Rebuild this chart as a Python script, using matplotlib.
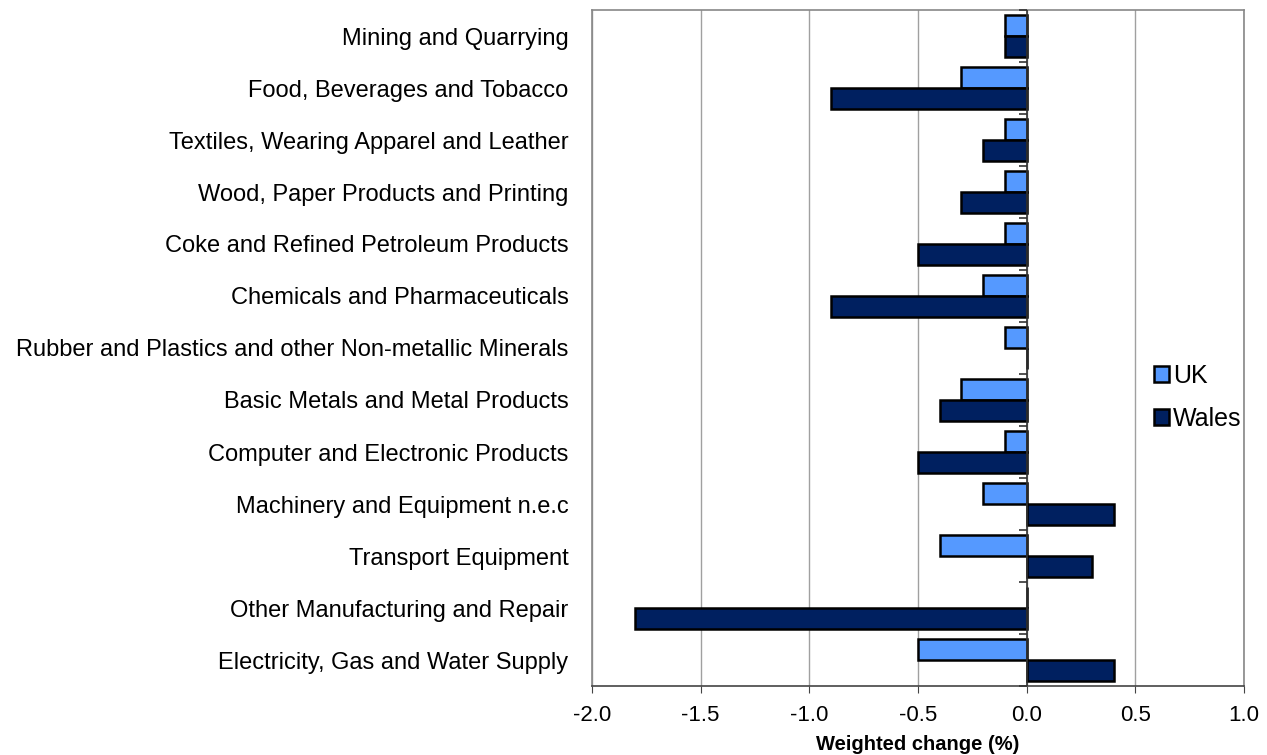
import matplotlib.pyplot as plt
import numpy as np

plt.rcParams['font.family'] = ['Liberation Sans', 'DejaVu Sans']

categories = [
    'Mining and Quarrying',
    'Food, Beverages and Tobacco',
    'Textiles, Wearing Apparel and Leather',
    'Wood, Paper Products and Printing',
    'Coke and Refined Petroleum Products',
    'Chemicals and Pharmaceuticals',
    'Rubber and Plastics and other Non-metallic Minerals',
    'Basic Metals and Metal Products',
    'Computer and Electronic Products',
    'Machinery and Equipment n.e.c',
    'Transport Equipment',
    'Other Manufacturing and Repair',
    'Electricity, Gas and Water Supply',
]
uk = [-0.1, -0.3, -0.1, -0.1, -0.1, -0.2, -0.1, -0.3, -0.1, -0.2, -0.4, 0.0, -0.5]
wales = [-0.1, -0.9, -0.2, -0.3, -0.5, -0.9, 0.0, -0.4, -0.5, 0.4, 0.3, -1.8, 0.4]
xticks = [-2.0, -1.5, -1.0, -0.5, 0.0, 0.5, 1.0]

uk_color = '#5599FF'
wales_color = '#002060'

fig = plt.figure(figsize=(12.67, 7.55), dpi=100)
ax = fig.add_axes([592 / 1267, 1 - 686 / 755, 652 / 1267, 676 / 755])

y = np.arange(len(categories))
h = 0.4
ax.barh(y - h / 2, uk, height=h, color=uk_color, edgecolor='black', linewidth=1.8, label='UK', zorder=3)
ax.barh(y + h / 2, wales, height=h, color=wales_color, edgecolor='black', linewidth=1.8, label='Wales', zorder=3)

ax.set_xlim(-2.0, 1.0)
ax.set_ylim(len(categories) - 0.5, -0.5)
ax.set_xticks(xticks)
ax.set_xticklabels([f'{v:.1f}' for v in xticks], fontsize=16)
ax.set_yticks(y)
ax.set_yticklabels(categories, fontsize=17)
ax.tick_params(axis='y', length=0, pad=17)
ax.tick_params(axis='x', length=5, color='#444444', pad=9)
ax.xaxis.grid(True, color='#A0A0A0', linewidth=1, zorder=0)
ax.set_axisbelow(True)

for s in ['top', 'right', 'left']:
    ax.spines[s].set_color('#888888')
    ax.spines[s].set_linewidth(1.2)
ax.spines['bottom'].set_color('#444444')
ax.spines['bottom'].set_linewidth(1.2)

# zero line with category separator ticks
ax.axvline(0, color='#333333', linewidth=1.2, zorder=4)
bounds = np.arange(len(categories) + 1) - 0.5
ax.plot(np.zeros(len(bounds)), bounds, linestyle='none', marker=0, markersize=6,
        markeredgewidth=1.2, color='#333333', zorder=4, clip_on=False)

ax.set_xlabel('Weighted change (%)', fontsize=14.5, fontweight='bold', labelpad=6)

leg = ax.legend(loc='center left', bbox_to_anchor=(0.862, 0.427), frameon=False,
                fontsize=18, handlelength=0.6, handleheight=0.6, handletextpad=0.15,
                labelspacing=0.75, borderaxespad=0, borderpad=0)

fig.savefig('out.png', dpi=100)
